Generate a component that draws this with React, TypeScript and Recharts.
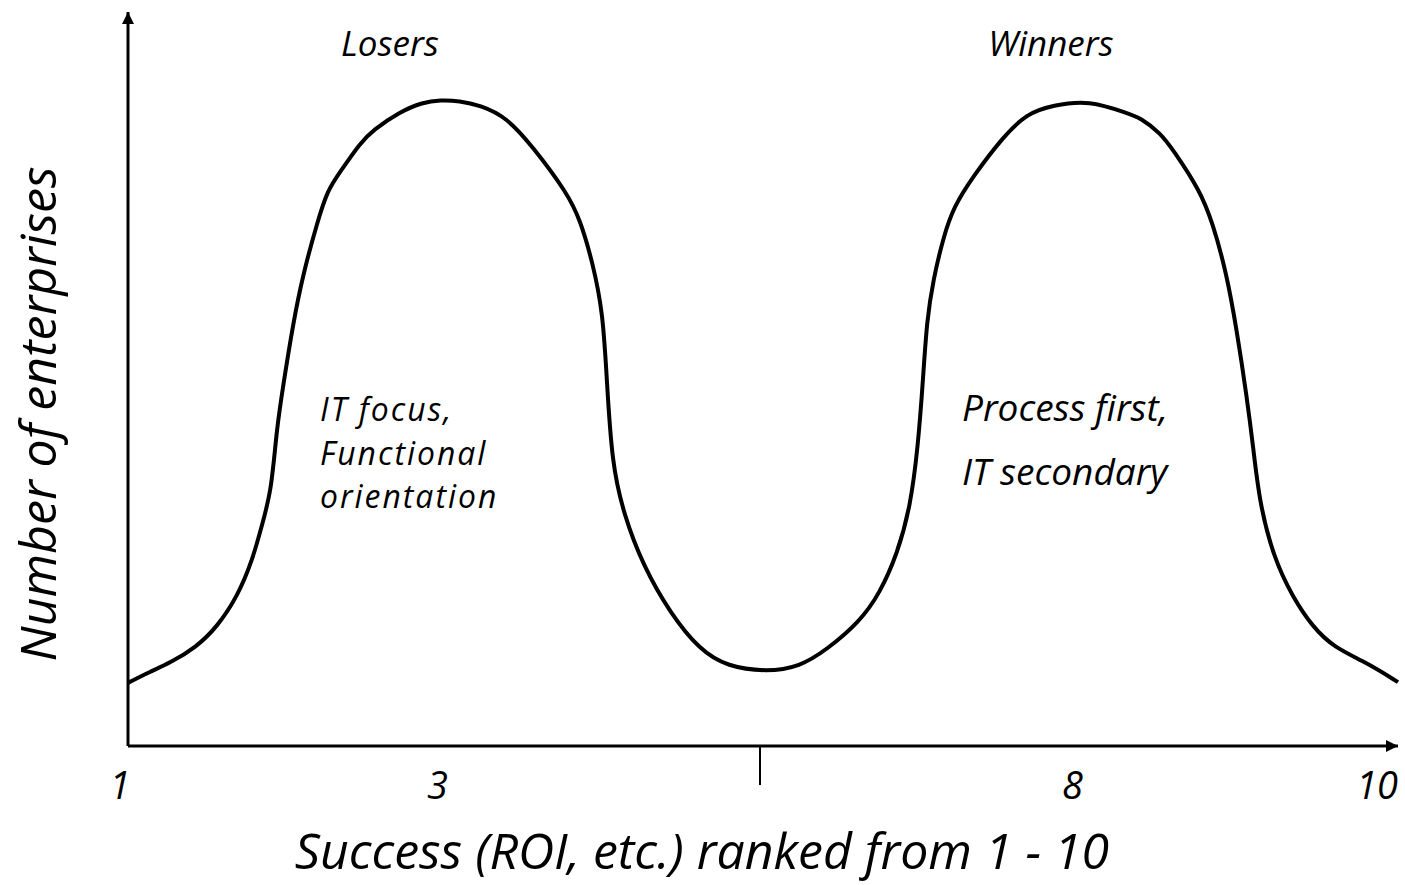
import { LineChart, Line, XAxis, YAxis, Label } from "recharts";

// position along the success axis (0 = left end, 100 = arrow tip)
const positions = [
  0, 1.7, 3.3, 5.4, 7.0, 8.6, 9.8, 10.6, 11.3, 11.7, 12.2, 13.0, 13.8, 14.9,
  15.7, 16.7, 18.3, 19.3, 21.4, 23.2, 24.6, 26.1, 27.7, 29.8, 31.9, 34.6, 35.6,
  36.6, 37.4, 37.7, 38.1, 39.0, 40.6, 42.7, 45.0, 47.2, 50.3, 52.9, 55.0, 57.6,
  59.2, 60.6, 61.6, 62.2, 62.6, 62.9, 63.4, 64.2, 65.0, 66.5, 68.9, 70.8, 72.8,
  75.7, 78.7, 79.7, 81.3, 82.3, 84.4, 85.4, 86.5, 87.3, 88.1, 88.6, 89.1, 90.2,
  91.7, 93.3, 94.9, 97.6, 100,
];
// number of enterprises (relative scale)
const enterprises = [
  8.6, 10.1, 11.3, 13.5, 16.2, 20.3, 25.3, 30.4, 34.9, 43.1, 48.9, 57.6, 64.4,
  71.3, 75.7, 78.2, 82.2, 83.9, 86.4, 87.7, 88.0, 87.9, 87.3, 85.7, 81.6, 75.3,
  71.7, 65.8, 59.0, 49.9, 38.6, 31.7, 24.4, 18.1, 13.1, 10.8, 10.1, 10.8, 13.1,
  16.9, 20.8, 26.3, 32.6, 40.7, 49.9, 58.0, 63.5, 69.3, 73.4, 77.5, 83.0, 86.2,
  87.3, 88.0, 86.2, 85.6, 83.5, 81.2, 75.7, 71.3, 64.4, 56.7, 47.5, 40.7, 33.1,
  25.7, 20.3, 16.2, 13.5, 11.3, 8.7,
];

const tickPositions = [0, 25, 50, 75, 100];
const tickLabels = ["1", "3", "", "8", "10"];

const peakLabels = ["Losers", "Winners"];
const loserNotes = ["IT focus,", "Functional", "orientation"];
const winnerNotes = ["Process first,", "IT secondary"];

const xTitle = "Success (ROI, etc.) ranked from 1 - 10";
const yTitle = "Number of enterprises";

const data = positions.map((x, i) => ({ x, count: enterprises[i] }));

const FONT = "'Open Sans', sans-serif";

const RankTick = (props: any) => {
  const { x, y, payload } = props;
  const label = tickLabels[tickPositions.indexOf(payload.value)];
  if (!label) {
    return <line x1={x - 3} y1={y} x2={x - 3} y2={y + 39} stroke="#000" strokeWidth={2} />;
  }
  const last = payload.value === tickPositions[tickPositions.length - 1];
  return (
    <text
      x={last ? x : x - 8}
      y={y + 53}
      textAnchor={last ? "end" : "middle"}
      fontFamily={FONT}
      fontStyle="italic"
      fontSize={38}
      fill="#000"
    >
      {label}
    </text>
  );
};

const note = (
  left: number,
  top: number,
  lines: string[],
  size: number,
  gap: number,
  spacing = 0
) => (
  <div
    style={{
      position: "absolute",
      left,
      top,
      fontFamily: FONT,
      fontStyle: "italic",
      fontSize: size,
      lineHeight: `${gap}px`,
      letterSpacing: spacing,
      color: "#000",
      whiteSpace: "nowrap",
    }}
  >
    {lines.map((l) => (
      <div key={l}>{l}</div>
    ))}
  </div>
);

const peakStyle = {
  position: "absolute" as const,
  top: 19,
  width: 200,
  textAlign: "center" as const,
  fontFamily: FONT,
  fontStyle: "italic",
  fontSize: 35,
};

export default function App() {
  return (
    <div style={{ position: "absolute", left: 0, top: 0, width: 1405, height: 885, background: "#fff" }}>
      <LineChart
        width={1405}
        height={885}
        data={data}
        margin={{ top: 12, right: 7, left: 0, bottom: 0 }}
      >
        <defs>
          <marker
            id="arrow"
            viewBox="0 0 10 10"
            refX={10}
            refY={5}
            markerUnits="userSpaceOnUse"
            markerWidth={13}
            markerHeight={12}
            orient="auto-start-reverse"
          >
            <path d="M0,0 L10,5 L0,10 z" fill="#000" />
          </marker>
        </defs>
        <XAxis
          dataKey="x"
          type="number"
          domain={[0, 100]}
          ticks={tickPositions}
          interval={0}
          height={139}
          tickSize={0}
          tickMargin={0}
          tickLine={false}
          axisLine={{ stroke: "#000", strokeWidth: 3, markerEnd: "url(#arrow)" }}
          tick={RankTick}
        >
          <Label
            content={({ viewBox }: any) => (
              <text
                x={viewBox.x + viewBox.width / 2 - 61}
                y={viewBox.y + 123}
                textAnchor="middle"
                fontFamily={FONT}
                fontStyle="italic"
                fontSize={50}
                fill="#000"
              >
                {xTitle}
              </text>
            )}
          />
        </XAxis>
        <YAxis
          type="number"
          domain={[0, 100]}
          width={128}
          tick={false}
          tickLine={false}
          axisLine={{ stroke: "#000", strokeWidth: 3, markerStart: "url(#arrow)" }}
        >
          <Label
            content={({ viewBox }: any) => {
              const cx = 56;
              const cy = viewBox.y + viewBox.height / 2 + 35;
              return (
                <text
                  x={cx}
                  y={cy}
                  transform={`rotate(-90 ${cx} ${cy})`}
                  textAnchor="middle"
                  fontFamily={FONT}
                  fontStyle="italic"
                  fontSize={50}
                  fill="#000"
                >
                  {yTitle}
                </text>
              );
            }}
          />
        </YAxis>
        <Line
          type="basis"
          dataKey="count"
          stroke="#000"
          strokeWidth={4}
          dot={false}
          activeDot={false}
          isAnimationActive={false}
        />
      </LineChart>
      <div style={{ ...peakStyle, left: 290 }}>{peakLabels[0]}</div>
      <div style={{ ...peakStyle, left: 951 }}>{peakLabels[1]}</div>
      {note(320, 387, loserNotes, 31.9, 43.5, 2)}
      {note(962, 375, winnerNotes, 37, 64)}
    </div>
  );
}
